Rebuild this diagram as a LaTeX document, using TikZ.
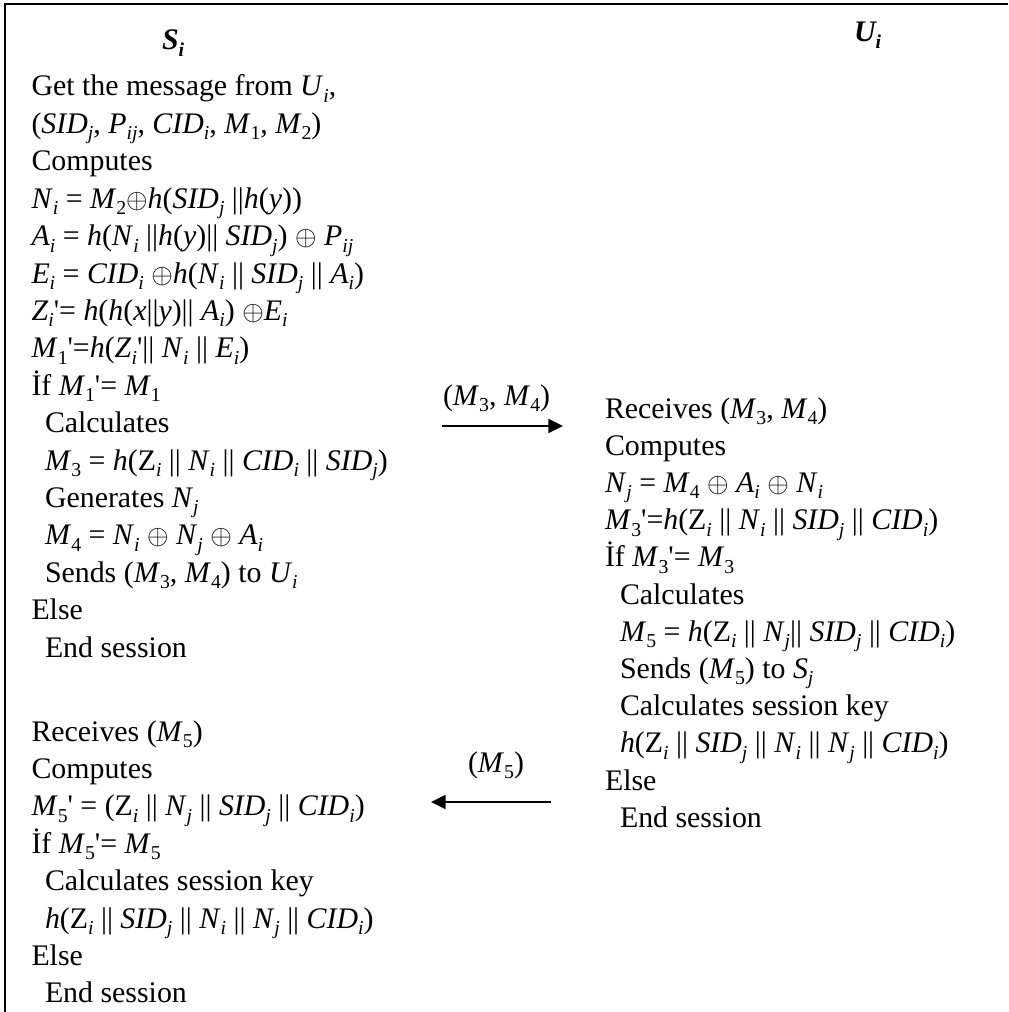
\documentclass[tikz,border=0pt]{standalone}
\usepackage{fontspec}
\setmainfont{Liberation Serif}
\usetikzlibrary{arrows.meta}
\newcommand\sbt[1]{\raisebox{-0.22em}{\fontsize{14.8}{14.8}\selectfont #1}}
\newcommand\vv[2]{\textit{#1}\sbt{\textit{#2}}}
\newcommand\vn[2]{\textit{#1}\sbt{#2}}
\newcommand\vu[2]{#1\sbt{\textit{#2}}}
\newcommand\hh{\textit{h}}
\newcommand\op{$\oplus$}
\newcommand\pr{\textquotesingle}
\tikzset{
  ln/.style={anchor=base west, inner sep=0pt, outer sep=0pt, font=\fontsize{22.4}{26}\selectfont},
  hd/.style={anchor=base west, inner sep=0pt, outer sep=0pt, font=\fontsize{22.4}{26}\selectfont\bfseries\itshape},
  msg/.style={line width=1.5pt, -{Triangle[length=11pt,width=10.5pt]}},
  frame/.style={line width=1.8pt}
}
\begin{document}
\begin{tikzpicture}[x=0.75pt,y=-0.75pt]
\useasboundingbox (0,0) rectangle (1008,1012);
\draw[frame] (1008,4) -- (5,4) -- (5,1012);
% headers
\node[hd] (hS) at (162,50) {S\sbt{i}};
\node[hd] (hU) at (854,42) {U\sbt{i}};
% left column
\def\L{31.5}\def\I{45}
\node[ln] (l0) at (\L,96) {Get the message from \vv{U}{i},};
\node[ln] (l1) at (\L,133.4) {(\vv{SID}{j}, \vv{P}{ij}, \vv{CID}{i}, \vn{M}{1}, \vn{M}{2})};
\node[ln] (l2) at (\L,170.8) {Computes};
\node[ln] (l3) at (\L,208.2) {\vv{N}{i} = \vn{M}{2}\op\hh(\vv{SID}{j} ||\hh(\textit{y}))};
\node[ln] (l4) at (\L,245.6) {\vv{A}{i} = \hh(\vv{N}{i} ||\hh(\textit{y})|| \vv{SID}{j}) \op{} \vv{P}{ij}};
\node[ln] (l5) at (\L,283) {\vv{E}{i} = \vv{CID}{i} \op\hh(\vv{N}{i} || \vv{SID}{j} || \vv{A}{i})};
\node[ln] (l6) at (\L,320.4) {\vv{Z}{i}\pr= \hh(\hh(\textit{x}||\textit{y})|| \vv{A}{i}) \op\vv{E}{i}};
\node[ln] (l7) at (\L,357.8) {\vn{M}{1}\pr=\hh(\vv{Z}{i}\pr|| \vv{N}{i} || \vv{E}{i})};
\node[ln] (l8) at (\L,395.2) {İf \vn{M}{1}\pr= \vn{M}{1}};
\node[ln] (l9) at (\I,432.6) {Calculates};
\node[ln] (l10) at (\I,470) {\vn{M}{3} = \hh(\vu{Z}{i} || \vv{N}{i} || \vv{CID}{i} || \vv{SID}{j})};
\node[ln] (l11) at (\I,507.4) {Generates \vv{N}{j}};
\node[ln] (l12) at (\I,544.8) {\vn{M}{4} = \vv{N}{i} \op{} \vv{N}{j} \op{} \vv{A}{i}};
\node[ln] (l13) at (\I,582.2) {Sends (\vn{M}{3}, \vn{M}{4}) to \vv{U}{i}};
\node[ln] (l14) at (\L,619.6) {Else};
\node[ln] (l15) at (\I,657) {End session};
\node[ln] (l16) at (\L,741) {Receives (\vn{M}{5})};
\node[ln] (l17) at (\L,778.4) {Computes};
\node[ln] (l18) at (\L,815.8) {\vn{M}{5}\pr{} = (\vu{Z}{i} || \vv{N}{j} || \vv{SID}{j} || \vv{CID}{i})};
\node[ln] (l19) at (\L,853.2) {İf \vn{M}{5}\pr= \vn{M}{5}};
\node[ln] (l20) at (\I,890.6) {Calculates session key};
\node[ln] (l21) at (\I,928) {\hh(\vu{Z}{i} || \vv{SID}{j} || \vv{N}{i} || \vv{N}{j} || \vv{CID}{i})};
\node[ln] (l22) at (\L,965.4) {Else};
\node[ln] (l23) at (\I,1002.8) {End session};
% right column
\def\R{605}\def\RI{620}
\node[ln] (r0) at (\R,418) {Receives (\vn{M}{3}, \vn{M}{4})};
\node[ln] (r1) at (\R,455.2) {Computes};
\node[ln] (r2) at (\R,492.4) {\vv{N}{j} = \vn{M}{4} \op{} \vv{A}{i} \op{} \vv{N}{i}};
\node[ln] (r3) at (\R,529.6) {\vn{M}{3}\pr=\hh(\vu{Z}{i} || \vv{N}{i} || \vv{SID}{j} || \vv{CID}{i})};
\node[ln] (r4) at (\R,566.8) {İf \vn{M}{3}\pr= \vn{M}{3}};
\node[ln] (r5) at (\RI,604) {Calculates};
\node[ln] (r6) at (\RI,641.2) {\vn{M}{5} = \hh(\vu{Z}{i} || \vv{N}{j}|| \vv{SID}{j} || \vv{CID}{i})};
\node[ln] (r7) at (\RI,678.4) {Sends (\vn{M}{5}) to \vv{S}{j}};
\node[ln] (r8) at (\RI,715.6) {Calculates session key};
\node[ln] (r9) at (\RI,752.8) {\hh(\vu{Z}{i} || \vv{SID}{j} || \vv{N}{i} || \vv{N}{j} || \vv{CID}{i})};
\node[ln] (r10) at (\R,790) {Else};
\node[ln] (r11) at (\RI,827.2) {End session};
% messages
\coordinate (a1s) at (442,426);
\coordinate (a1e) at (563,426);
\draw[msg] (a1s) -- (a1e);
\node[ln] (m34) at (443,405) {(\vn{M}{3}, \vn{M}{4})};
\coordinate (a2s) at (551,802);
\coordinate (a2e) at (431,802);
\draw[msg] (a2s) -- (a2e);
\node[ln] (m5) at (468,772) {(\vn{M}{5})};
\end{tikzpicture}
\end{document}
